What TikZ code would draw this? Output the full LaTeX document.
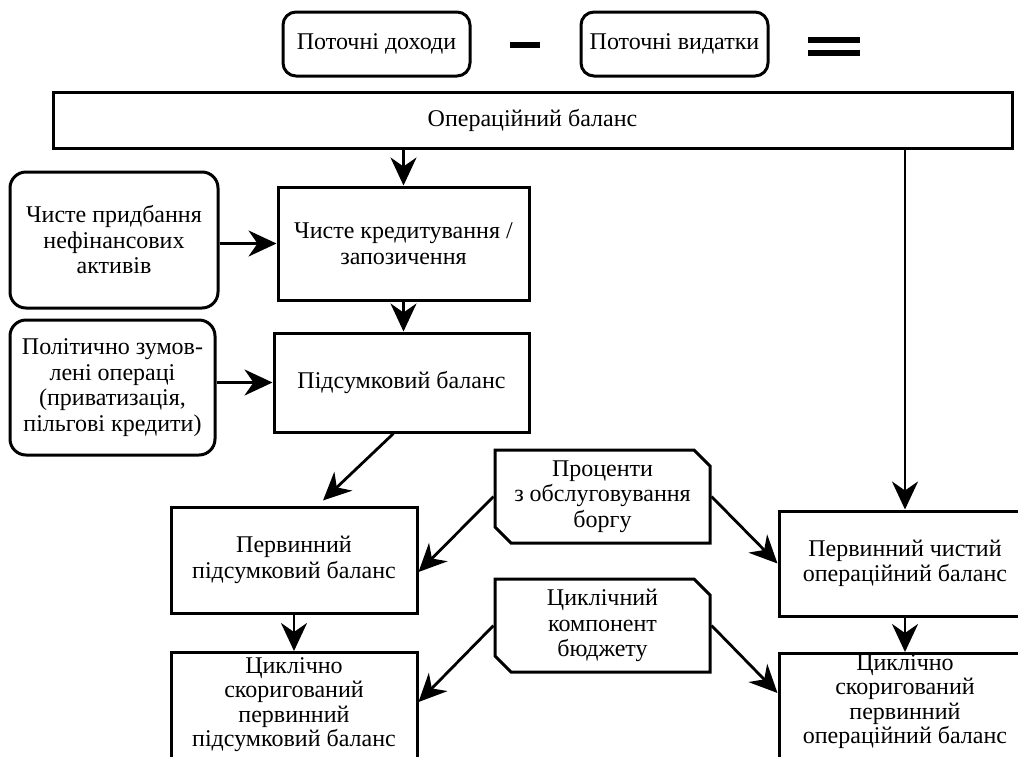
\documentclass[tikz,border=0pt]{standalone}
\usepackage{fontspec}
\setmainfont{Liberation Serif}
\usetikzlibrary{arrows.meta,shapes.misc,calc}
\begin{document}
\begin{tikzpicture}[x=1pt,y=-1pt,
  every node/.style={font=\fontsize{24}{25.5}\selectfont, align=center, inner sep=0pt},
  tight/.style={font=\fontsize{24}{24.5}\selectfont},
  sqbox/.style={draw, line width=3pt, rectangle},
  rbox/.style={draw, line width=3pt, rectangle, rounded corners=16pt},
  snipbox/.style={draw, line width=3pt, chamfered rectangle,
     chamfered rectangle corners={north east,south west},
     chamfered rectangle xsep=8pt, chamfered rectangle ysep=8pt},
  conn/.style={line width=2.8pt, -{Stealth[length=28pt,width=26pt,inset=9pt]}},
  bar/.style={fill=black}]
\useasboundingbox (0,0) rectangle (1018,756);
% top row
\node[rbox, rounded corners=13pt, minimum width=187pt, minimum height=64pt] (inc) at (376.5,44) {Поточні доходи};
\node[rbox, rounded corners=13pt, minimum width=187pt, minimum height=64pt] (exp) at (674.5,44) {Поточні видатки};
\fill[bar] (510,42) rectangle (540,47.5);
\fill[bar] (808,37) rectangle (860,43);
\fill[bar] (808,50) rectangle (860,56);
% operating balance
\node[sqbox, minimum width=959pt, minimum height=56pt] (op) at (532.5,120) {Операційний баланс};
% left rounded boxes
\node[rbox, minimum width=208pt, minimum height=136pt] (nfa) at (114,240) {Чисте придбання\\нефінансових\\активів};
\node[rbox, minimum width=205pt, minimum height=135pt] (pol) at (112.5,387.5) {Політично зумов-\\лені операці\\(приватизація,\\пільгові кредити)};
% middle column
\node[sqbox, minimum width=251pt, minimum height=113pt] (ck) at (403.5,243.5) {Чисте кредитування /\\запозичення};
\node[sqbox, minimum width=255pt, minimum height=99pt] (pb) at (401.5,382.5) {Підсумковий баланс};
\node[sqbox, minimum width=246pt, minimum height=106pt] (pp) at (294,560) {Первинний\\підсумковий баланс};
\node[sqbox, minimum width=246pt, minimum height=130pt, anchor=north] (cpp) at (294,651) {};
\node[tight, anchor=north] (cppt) at (294,657) {Циклічно\\скоригований\\первинний\\підсумковий баланс};
% snipped boxes
\node[snipbox, minimum width=215pt, minimum height=93pt] (int) at (602.5,496.5) {Проценти\\з обслуговування\\боргу};
\node[snipbox, minimum width=215pt, minimum height=93pt] (cyc) at (602.5,625.5) {Циклічний\\компонент\\бюджету};
% right column
\node[sqbox, minimum width=252pt, minimum height=105pt] (pc) at (905,563.5) {Первинний чистий\\операційний баланс};
\node[sqbox, minimum width=252pt, minimum height=130pt, anchor=north] (cpo) at (905,652) {};
\node[tight, anchor=north] (cpot) at (905,654) {Циклічно\\скоригований\\первинний\\операційний баланс};
% connectors
\draw[conn] (op.south -| ck.north) -- (ck.north);
\draw[conn] (ck.south) -- (ck.south |- pb.north);
\draw[conn] (ck.west -| nfa.east) -- (ck.west);
\draw[conn] (pb.west -| pol.east) -- (pb.west);
\draw[conn] ($(pb.south)+(-8,0)$) -- ($(pp.north)+(29,-5)$);
\draw[conn] (pp.south) -- (pp.south |- cpp.north);
\draw[conn] (op.south -| pc.north) -- (pc.north);
\draw[conn] (pc.south) -- (pc.south |- cpo.north);
\draw[conn] (int.west) -- ($(pp.east)+(0,12)$);
\draw[conn] (int.east) -- (pc.west);
\draw[conn] (cyc.west) -- ($(cpp.north east)+(0,51)$);
\draw[conn] (cyc.east) -- ($(cpo.north west)+(0,41)$);
\end{tikzpicture}
\end{document}
